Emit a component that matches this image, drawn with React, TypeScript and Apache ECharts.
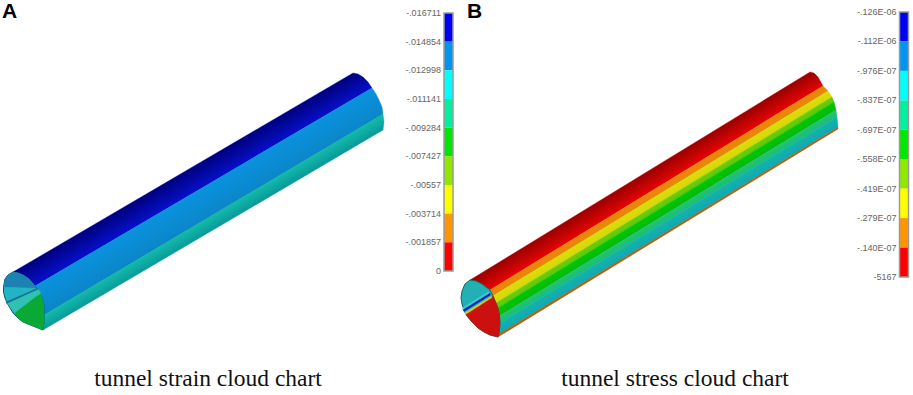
import React, { useEffect, useRef } from "react";
import * as echarts from "echarts";

type P = [number, number];
type Face = { points: P[]; color: string; stroke?: string };

const legendColors = ["#0000f0", "#0096f0", "#00ffff", "#00f0a0", "#00e800", "#90e800", "#ffff00", "#ff9600", "#ff0000"];
const segmentSizes = [1, 1, 1, 1, 1, 1, 1, 1, 1];
const strainTicks = ["-.016711", "-.014854", "-.012998", "-.011141", "-.009284", "-.007427", "-.00557", "-.003714", "-.001857", "0"];
const stressTicks = ["-.126E-06", "-.112E-06", "-.976E-07", "-.837E-07", "-.697E-07", "-.558E-07", "-.419E-07", "-.279E-07", "-.140E-07", "-5167"];

const strainNearArc: P[] = [[13, 272], [18, 273], [23, 275], [29, 279], [35, 286], [39, 291], [42, 298], [44, 306], [44, 315], [44, 323], [43, 330]];
const strainFarArc: P[] = [[353, 73], [358, 74], [363, 77], [368, 82], [372, 88], [376, 94], [379, 100], [382, 107], [383, 114], [384, 122], [383, 130]];
const strainBreaks = [0, 4, 8, 10];
const strainBandColors: [string, string][] = [["#00007c", "#0610cc"], ["#0a92de", "#0a86c8"], ["#12bcaa", "#0a9a9c"]];

const stressNearArc: P[] = [[470, 280], [476, 281], [482, 284], [490, 290], [493, 296], [496, 303], [498, 308], [499.5, 316], [500, 323], [499, 334], [498, 337]];
const stressFarArc: P[] = [[810, 72], [814, 73], [818, 77], [823, 86], [828, 91], [832, 97], [834, 102], [836, 110], [837, 117], [838, 127], [838, 129]];
const stressBreaks = [0, 3, 4, 5, 6, 7, 8, 9, 10];
const stressBandColors: [string, string][] = [
  ["#980000", "#e80404"], ["#ea8408", "#e88808"], ["#dcdc08", "#d4d808"], ["#6ccc08", "#5cc808"],
  ["#00c800", "#04b810"], ["#24c468", "#18bc84"], ["#12b4a4", "#10a8b8"], ["#a86414", "#a86414"],
];

const strainFaces: Face[] = [
  { color: "#22b4c4", stroke: "#0c5c6c", points: [[13, 272], [18, 273], [23, 275], [29, 279], [35, 286], [39, 291], [42, 298], [44, 306], [44, 315], [44, 323], [43, 330], [38, 328], [33, 326], [28, 324], [23, 322], [18, 318], [13, 313], [10, 308], [7, 303], [5, 298], [3.5, 292], [3.5, 287], [5, 279], [8, 275]] },
  { color: "#1c82b4", points: [[3.5, 287], [5, 279], [8, 275], [13, 272], [18, 273], [23, 275], [29, 279], [35, 286], [36, 288], [15, 287]] },
  { color: "#30c2b0", points: [[7, 303], [38, 288], [41, 294], [15, 313]] },
  { color: "#0aa834", points: [[15, 313], [37, 296], [41, 294], [42, 298], [44, 306], [44, 315], [44, 323], [43, 330], [38, 328], [33, 326], [28, 324], [23, 322], [18, 318]] },
  { color: "#1a6e90", points: [[6, 302], [38, 288], [38.5, 289], [6.5, 303.5]] },
];

const stressFaces: Face[] = [
  { color: "#22b0b4", stroke: "#0c6a50", points: [[470, 280], [476, 281], [482, 284], [490, 290], [493, 296], [496, 303], [498, 308], [499.5, 316], [500, 323], [499, 334], [498, 337], [490, 335], [484, 332], [478, 328], [472, 322], [467, 316], [464, 310], [462, 304], [461, 298], [462, 291], [465, 284]] },
  { color: "#cc1010", points: [[465.5, 314], [492, 297], [493, 296], [496, 303], [498, 308], [499.5, 316], [500, 323], [499, 334], [498, 337], [490, 335], [484, 332], [478, 328], [472, 322], [467, 316]] },
  { color: "#d8c820", points: [[464.5, 312.5], [491, 296], [492, 297.5], [465.5, 314.5]] },
  { color: "#20c0a0", points: [[464, 311.5], [490.5, 295], [491, 296], [464.5, 312.5]] },
  { color: "#0818b8", points: [[463, 309.5], [489.5, 293], [490.5, 295], [464, 311.5]] },
  { color: "#30d0d8", points: [[462.5, 308], [488.5, 291.5], [489.5, 293], [463, 309.5]] },
];

const captions = [
  { text: "tunnel strain cloud chart", x: 208 },
  { text: "tunnel stress cloud chart", x: 675 },
];
const panelLetters = [
  { text: "A", x: 2 },
  { text: "B", x: 467 },
];

function buildShapes(near: P[], far: P[], breaks: number[], colors: [string, string][], faces: Face[]) {
  const bands = colors.map((c, i) => {
    const from = breaks[i];
    const to = breaks[i + 1];
    const start = near[from];
    const dx = far[from][0] - start[0];
    const dy = far[from][1] - start[1];
    const len = Math.hypot(dx, dy);
    const nx = -dy / len;
    const ny = dx / len;
    const dist = (near[to][0] - start[0]) * nx + (near[to][1] - start[1]) * ny;
    return {
      points: [...near.slice(from, to + 1), ...far.slice(from, to + 1).reverse()],
      color: c[0],
      color2: c[1],
      start,
      end: [start[0] + nx * dist, start[1] + ny * dist] as P,
      stroke: undefined as string | undefined,
    };
  });
  const faceShapes = faces.map((f) => ({
    points: f.points,
    color: f.color,
    color2: f.color,
    start: f.points[0],
    end: f.points[0],
    stroke: f.stroke,
  }));
  return [...bands, ...faceShapes];
}

const shapes = [
  ...buildShapes(strainNearArc, strainFarArc, strainBreaks, strainBandColors, strainFaces),
  ...buildShapes(stressNearArc, stressFarArc, stressBreaks, stressBandColors, stressFaces),
];

function legendSeries(xAxisIndex: number, stack: string) {
  return segmentSizes.map((v, i) => ({
    type: "bar" as const,
    xAxisIndex,
    yAxisIndex: xAxisIndex,
    stack,
    data: [v],
    barWidth: "100%",
    itemStyle: { color: legendColors[i] },
    silent: true,
  }));
}

function legendYAxis(gridIndex: number, ticks: string[]) {
  return {
    type: "value" as const,
    gridIndex,
    inverse: true,
    min: 0,
    max: 9,
    interval: 1,
    splitLine: { show: false },
    axisLine: { show: false },
    axisTick: { show: false },
    axisLabel: {
      color: "#666666",
      fontFamily: "Liberation Sans",
      fontSize: 9,
      margin: 3,
      padding: [0, 0, 6, 0],
      formatter: (v: number) => ticks[Math.round(v)] ?? "",
    },
  };
}

const legendFrames = [
  { x: 444, y: 13, width: 9, height: 258 },
  { x: 899.5, y: 12, width: 9, height: 265 },
];

export default function App() {
  const ref = useRef<HTMLDivElement>(null);
  useEffect(() => {
    document.body.style.margin = "0";
    const chart = echarts.init(ref.current!, null, { renderer: "svg" });
    chart.setOption({
      animation: false,
      backgroundColor: "#ffffff",
      grid: [
        { left: legendFrames[0].x, top: legendFrames[0].y, width: legendFrames[0].width, height: legendFrames[0].height },
        { left: legendFrames[1].x, top: legendFrames[1].y, width: legendFrames[1].width, height: legendFrames[1].height },
        { left: 0, top: 0, width: 913, height: 395 },
      ],
      xAxis: [
        { type: "category", gridIndex: 0, data: ["strain"], show: false },
        { type: "category", gridIndex: 1, data: ["stress"], show: false },
        { type: "value", gridIndex: 2, min: 0, max: 913, show: false },
      ],
      yAxis: [
        legendYAxis(0, strainTicks),
        legendYAxis(1, stressTicks),
        { type: "value", gridIndex: 2, min: 0, max: 395, inverse: true, show: false },
      ],
      series: [
        ...legendSeries(0, "strain"),
        ...legendSeries(1, "stress"),
        {
          type: "custom",
          xAxisIndex: 2,
          yAxisIndex: 2,
          silent: true,
          clip: false,
          encode: { x: 0, y: 1 },
          data: shapes.map((_, i) => [i, i]),
          renderItem: (params: any, api: any) => {
            const s = shapes[params.dataIndex];
            const pts = s.points.map((p) => api.coord(p));
            const a = api.coord(s.start);
            const b = api.coord(s.end);
            const fill =
              s.color === s.color2
                ? s.color
                : {
                    type: "linear",
                    global: true,
                    x: a[0],
                    y: a[1],
                    x2: b[0],
                    y2: b[1],
                    colorStops: [
                      { offset: 0, color: s.color },
                      { offset: 1, color: s.color2 },
                    ],
                  };
            return {
              type: "polygon",
              shape: { points: pts },
              style: { fill, stroke: s.stroke ?? s.color2, lineWidth: s.stroke ? 1 : 0.4 },
            };
          },
        },
      ],
      graphic: [
        ...legendFrames.map((f) => ({
          type: "rect",
          z: 100,
          shape: { x: f.x, y: f.y, width: f.width, height: f.height },
          style: { fill: "transparent", stroke: "#9a9a9a", lineWidth: 1.5 },
        })),
        ...captions.map((c) => ({
          type: "text",
          x: c.x,
          y: 378,
          style: { text: c.text, fill: "#111", font: "23.5px 'Liberation Serif'", textAlign: "center", textVerticalAlign: "middle" },
        })),
        ...panelLetters.map((l) => ({
          type: "text",
          x: l.x,
          y: 10,
          style: { text: l.text, fill: "#000", font: "bold 21px 'Liberation Sans'", textVerticalAlign: "middle" },
        })),
      ],
    });
    return () => chart.dispose();
  }, []);
  return <div ref={ref} style={{ width: 913, height: 395 }} />;
}
